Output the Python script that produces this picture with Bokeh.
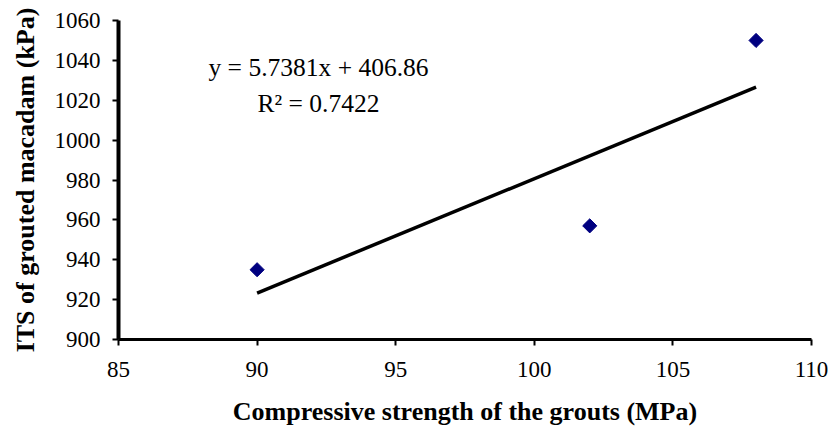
import numpy as np
from bokeh.plotting import figure
from bokeh.models import Range1d, FixedTicker, Label
from bokeh.embed import file_html
from bokeh.resources import INLINE

# Data
grout_strength = [90, 102, 108]          # MPa
its_values = [935.0, 957.0, 1050.0]      # kPa
trend_slope = 5.7381
trend_intercept = 406.86
r_squared = 0.7422
x_ticks = [85, 90, 95, 100, 105, 110]
y_ticks = [900, 920, 940, 960, 980, 1000, 1020, 1040, 1060]
x_title = "Compressive strength of the grouts (MPa)"
y_title = "ITS of grouted macadam (kPa)"

FONT = "Liberation Serif"

p = figure(width=831, height=432, output_backend="svg", toolbar_location=None,
           x_range=Range1d(x_ticks[0], x_ticks[-1]), y_range=Range1d(y_ticks[0], y_ticks[-1]),
           min_border_left=118, min_border_right=20, min_border_top=20, min_border_bottom=93)
p.outline_line_color = None
p.xgrid.visible = False
p.ygrid.visible = False

for axes in (p.xaxis, p.yaxis):
    axes.axis_line_color = "black"
    axes.major_tick_line_width = 2
    axes.major_tick_line_color = "black"
    axes.major_tick_out = 6
    axes.major_tick_in = 0
    axes.minor_tick_line_color = None
    axes.major_label_text_font = FONT
    axes.major_label_text_font_size = "23px"
    axes.major_label_text_color = "black"
    axes.axis_label_text_font = FONT
    axes.axis_label_text_font_size = "26px"
    axes.axis_label_text_font_style = "bold"
    axes.axis_label_text_color = "black"
p.xaxis.axis_line_width = 3
p.yaxis.axis_line_width = 4

p.xaxis.ticker = FixedTicker(ticks=x_ticks)
p.yaxis.ticker = FixedTicker(ticks=y_ticks)
p.xaxis.major_label_standoff = 16
p.yaxis.major_label_standoff = 12
p.xaxis.axis_label = x_title
p.yaxis.axis_label = y_title
p.xaxis.axis_label_standoff = 17
p.yaxis.axis_label_standoff = 12

# Trendline
xs = np.array([min(grout_strength), max(grout_strength)], dtype=float)
ys = trend_slope * xs + trend_intercept
p.line(xs, ys, line_color="black", line_width=3.5)

# Points
p.scatter(grout_strength, its_values, marker="square", angle=np.pi / 4, size=10,
          fill_color="#000080", line_color="#000080")

# Equation labels (screen units relative to the plot frame's bottom-left)
p.add_layout(Label(x=200, y=272, x_units="screen", y_units="screen",
                   text=f"y = {trend_slope}x + {trend_intercept}",
                   text_font=FONT, text_font_size="25.5px", text_align="center",
                   text_baseline="middle", text_color="black"))
p.add_layout(Label(x=200, y=236, x_units="screen", y_units="screen",
                   text=f"R\u00b2 = {r_squared}",
                   text_font=FONT, text_font_size="25.5px", text_align="center",
                   text_baseline="middle", text_color="black"))

open("out.html", "w").write(file_html(p, INLINE))
